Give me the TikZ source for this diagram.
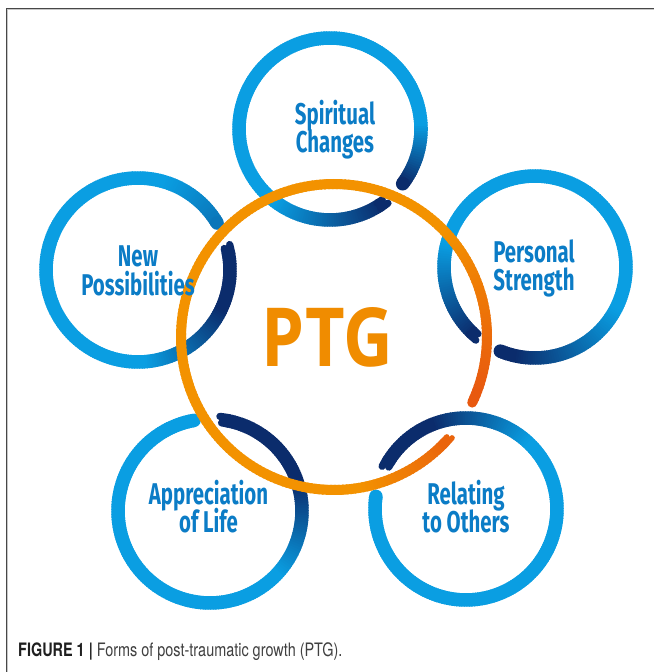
\documentclass[tikz,border=0pt]{standalone}
\usepackage{fontspec}
\usepackage{graphicx}
\newfontfamily\labelfont[FakeStretch=0.68]{Fira Sans}
\newfontfamily\ptgfont{Open Sans}
\newfontfamily\capfont[FakeStretch=0.78]{TeX Gyre Heros}

\definecolor{ringlight}{HTML}{0A9EE2}
\definecolor{ringdark}{HTML}{0B2C6C}
\definecolor{orlight}{HTML}{F39200}
\definecolor{ordark}{HTML}{E8590F}
\definecolor{labelblue}{HTML}{0B7CC6}
\definecolor{ptgorange}{HTML}{F08C00}
\colorlet{rdark}{ringdark}
\colorlet{rlight}{ringlight}

% Ring arc drawn in short pieces whose colour runs from rdark (start)
% to rlight and optionally back towards rdark near the end.
% #1 centre, #2 radius, #3 width, #4 start angle, #5 end angle,
% #6 dark until, #7 light from, #8 light until (degrees from start),
% #9 dark share at the end (percent)
\newcommand{\gradring}[9]{%
  \pgfmathsetmacro{\gL}{abs(#5-(#4))}%
  \pgfmathsetmacro{\gdir}{ifthenelse(#5>#4,1,-1)}%
  \pgfmathtruncatemacro{\gN}{ceil(\gL/1.5)}%
  \pgfmathsetmacro{\gstep}{\gL/\gN}%
  \foreach \k in {1,...,\gN}{%
    \pgfmathsetmacro{\gd}{(\k-0.5)*\gstep}%
    \pgfmathsetmacro{\ga}{#4+\gdir*(\k-1)*\gstep}%
    \pgfmathsetmacro{\gb}{#4+\gdir*min(\k*\gstep+0.7,\gL)}%
    \pgfmathsetmacro{\gs}{max(0,min(1,(#7-\gd)/(#7-#6)))}%
    \pgfmathsetmacro{\gt}{max(0,min(1,(\gd-#8)/(\gL-#8)))*#9/100}%
    \pgfmathsetmacro{\gp}{100*max(\gs,\gt)}%
    \draw[line width=#3, color=rdark!\gp!rlight]
      ([shift={(\ga:#2)}]#1) arc[start angle=\ga, end angle=\gb, radius=#2];
  }%
}
% round end of a ring: #1 centre, #2 radius, #3 width, #4 angle, #5 colour
\newcommand{\ringcap}[5]{%
  \fill[#5] ([shift={(#4:#2)}]#1) circle[radius={#3/2}];}
% split brush end: #1 centre, #2 radius, #3 width, #4 base angle,
% #5 direction, #6 outer prong length, #7 inner prong length, #8 colour
\newcommand{\ringfork}[8]{%
  \draw[line width={0.54*#3}, line cap=round, #8]
    ([shift={({#4-(#5)*1.5}:{#2+0.23*#3})}]#1)
    arc[start angle={#4-(#5)*1.5}, end angle={#4+(#5)*#6}, radius={#2+0.23*#3}];
  \draw[line width={0.54*#3}, line cap=round, #8]
    ([shift={({#4-(#5)*1.5}:{#2-0.23*#3})}]#1)
    arc[start angle={#4-(#5)*1.5}, end angle={#4+(#5)*#7}, radius={#2-0.23*#3}];
}

\tikzset{
  lbl/.style={font={\labelfont\bfseries\fontsize{30pt}{30pt}\selectfont},
    text=labelblue, inner sep=0pt, anchor=base},
}

\begin{document}
\begin{tikzpicture}[x=1pt,y=1pt]
\useasboundingbox (0,0) rectangle (654,672);
\fill[white] (0,0) rectangle (654,672);

% frame
\draw[line width=1.1pt, black!72] (6.5,0) |- (654,663.5);
\draw[line width=0.9pt, black!22] (7.6,0) |- (654,662.4);

% ring centres
\coordinate (cSC) at (330,543);
\coordinate (cPS) at (535,405);
\coordinate (cNP) at (138,402);
\coordinate (cAL) at (210,161);
\coordinate (cRO) at (466,163);
\coordinate (cPTG) at (334,335);

% blue rings
\colorlet{rdark}{ringdark}\colorlet{rlight}{ringlight}
\gradring{cSC}{91}{13.5}{-37}{304}{2}{40}{270}{100}
\ringcap{cSC}{91}{13.5}{-37}{ringdark}
\ringfork{cSC}{91}{13.5}{304}{1}{4}{2.5}{ringdark}

\gradring{cPS}{91}{13.5}{247.6}{587}{10}{85}{278}{100}
\ringcap{cPS}{91}{13.5}{247.6}{ringdark}
\ringfork{cPS}{91}{13.5}{587}{1}{4}{2.5}{ringdark}

\gradring{cNP}{92}{13.5}{11.5}{-329.3}{37}{97}{298}{35}
\ringcap{cNP}{92}{13.5}{-329.3}{ringdark!35!ringlight}
\ringfork{cNP}{92}{13.5}{11.5}{1}{4}{2.5}{ringdark}

\gradring{cAL}{92}{13.5}{80}{-260}{62}{122}{339}{0}
\ringcap{cAL}{92}{13.5}{-260}{ringlight}
\ringfork{cAL}{92}{13.5}{80}{1}{4}{2.5}{ringdark}

\gradring{cRO}{91}{13.5}{149}{-188}{38}{102}{336}{0}
\ringcap{cRO}{91}{13.5}{-188}{ringlight}
\ringfork{cRO}{91}{13.5}{149}{1}{4}{2.5}{ringdark}

% central orange ring
\colorlet{rdark}{ordark}\colorlet{rlight}{orlight}
\gradring{cPTG}{153}{10}{-25.4}{316.5}{5}{70}{305}{80}
\ringcap{cPTG}{153}{10}{-25.4}{ordark}
\ringfork{cPTG}{153}{10}{316.5}{1}{3}{2}{ordark!80!orlight}

% labels
\node[lbl] (sc1) at (335,547.5) {Spiritual};
\node[lbl] (sc2) at (335,519.5) {Changes};
\node[lbl] (ps1) at (534,409.5) {Personal};
\node[lbl] (ps2) at (534,381.5) {Strength};
\node[lbl] (np1) at (138,405) {New};
\node[lbl] (np2) at (138,376) {Possibilities};
\node[lbl] (al1) at (208.5,167) {Appreciation};
\node[lbl] (al2) at (208.5,139) {of Life};
\node[lbl] (ro1) at (466,167) {Relating};
\node[lbl] (ro2) at (466,139) {to Others};

\node[font=\ptgfont\bfseries, text=ptgorange, inner sep=0pt, anchor=base]
  (ptg) at (327.5,305) {\resizebox{131pt}{59pt}{PTG}};

% caption
\node[font={\capfont\fontsize{18.5pt}{20pt}\selectfont}, text=black!75,
  inner sep=0pt, anchor=base west] (cap) at (18,15)
  {\textbf{\color{black!88}FIGURE 1 |} Forms of post-traumatic growth (PTG).};
\end{tikzpicture}
\end{document}
